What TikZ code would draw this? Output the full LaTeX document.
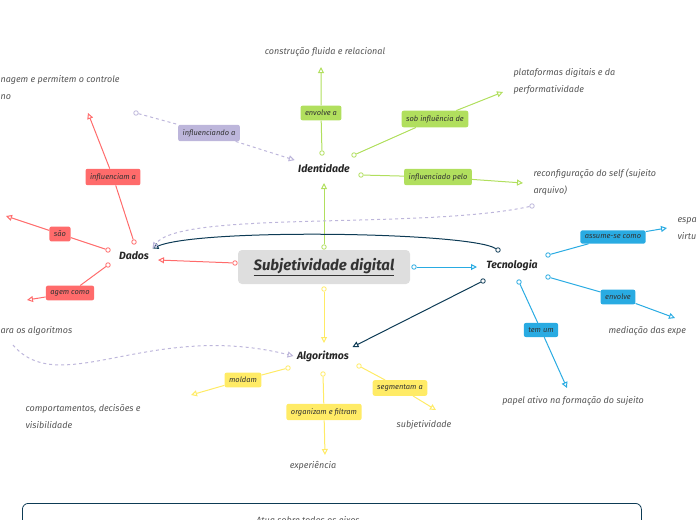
\documentclass[tikz,border=0pt]{standalone}
\usepackage{fontspec}
\setmainfont{Fira Sans}
\usetikzlibrary{arrows.meta}
\definecolor{cred}{HTML}{FF6B6B}
\definecolor{cgreen}{HTML}{B1DF5E}
\definecolor{cblue}{HTML}{29ABE2}
\definecolor{cyellow}{HTML}{FFEB66}
\definecolor{cpurple}{HTML}{BDB6DB}
\definecolor{cdark}{HTML}{0D3B55}
\definecolor{ctext}{HTML}{555555}
\tikzset{
  lbl/.style={fill=#1, rounded corners=2pt, inner sep=4.5pt, font=\fontsize{7.5}{9}\selectfont\itshape, text=black!80},
  topic/.style={font=\fontsize{10.5}{12}\selectfont\bfseries\itshape, text=black!85},
  leaf/.style={font=\fontsize{9}{17}\selectfont\itshape, text=ctext, align=left},
  dot/.style={circle, draw=#1, fill=white, line width=0.8pt, inner sep=0pt, minimum size=4.5pt},
  conn/.style={draw=#1, line width=1pt, -{Triangle[open, length=6pt, width=6pt]}}
}
\begin{document}
\begin{tikzpicture}[x=1pt, y=-1pt]
    \useasboundingbox (0,0) rectangle (697,520);
    \clip (0,0) rectangle (697,520);
    % main topic
    \node [fill=black!13, rounded corners=4pt, minimum width=172pt, minimum height=34pt, font=\fontsize{15}{17}\selectfont\bfseries\itshape, text=black!80] at (324,267) (main) {\underline{Subjetividade digital}};
    \node [topic] at (324,168) (ident) {Identidade};
    \node [topic] at (134,256) (dados) {Dados};
    \node [topic] at (512,265) (tec) {Tecnologia};
    \node [topic] at (323,356) (algo) {Algoritmos};
    % dots on the main topic
    \node [dot=cred] at (235,263) (m1) {};
    \node [dot=cgreen] at (324,247) (m2) {};
    \node [dot=cblue] at (414,267) (m3) {};
    \node [dot=cyellow] at (324,289) (m4) {};
    \draw [conn=cred] (m1) -- (158,260);
    \draw [conn=cgreen] (m2) -- (324,183);
    \draw [conn=cblue] (m3) -- (477,267);
    \draw [conn=cyellow] (m4) -- (324,343);
    % leaves
    \node [leaf, anchor=center] at (325,52) (t1) {construção fluida e relacional};
    \node [leaf, anchor=west] at (510,81) (t2) {plataformas digitais e da\\performatividade};
    \node [leaf, anchor=west] at (530,182) (t3) {reconfiguração do self (sujeito\\arquivo)};
    \node [leaf, anchor=west] at (-3,88) (t4) {nagem e permitem o controle\\no};
    \node [leaf, anchor=west] at (-3,331) (t5) {ara os algoritmos};
    \node [leaf, anchor=west] at (674,229) (t6) {espa\\virtu};
    \node [leaf, anchor=west] at (605,331) (t7) {mediação das expe};
    \node [leaf] at (573,401) (t8) {papel ativo na formação do sujeito};
    \node [leaf, anchor=west] at (22,417) (t9) {comportamentos, decisões e\\visibilidade};
    \node [leaf] at (313,466) (t10) {experiência};
    \node [leaf] at (424,425) (t11) {subjetividade};
    % Identidade
    \node [dot=cgreen] at (322,153) (i1) {};
    \node [dot=cgreen] at (354,155) (i2) {};
    \node [dot=cgreen] at (361,175) (i3) {};
    \coordinate (e1) at (321,67);
    \coordinate (e2) at (503,92);
    \coordinate (e3) at (523,183);
    \node [lbl=cgreen] at (321,113) (l1) {envolve a};
    \node [lbl=cgreen] at (435,119) (l2) {sob influência de};
    \node [lbl=cgreen] at (438,177) (l3) {influenciado pelo};
    \draw [conn=cgreen] (i1) -- (l1) -- (e1);
    \draw [conn=cgreen] (i2) -- (l2) -- (e2);
    \draw [conn=cgreen] (i3) -- (l3) -- (e3);
    % Dados
    \node [dot=cred] at (134,242) (d1) {};
    \node [dot=cred] at (108,250) (d2) {};
    \node [dot=cred] at (108,265) (d3) {};
    \coordinate (f1) at (88,113);
    \coordinate (f2) at (6,216);
    \coordinate (f3) at (27,300);
    \node [lbl=cred] at (113,177) (l4) {influenciam a};
    \node [lbl=cred] at (60,234) (l5) {são};
    \node [lbl=cred] at (70,293) (l6) {agem como};
    \draw [conn=cred] (d1) -- (l4) -- (f1);
    \draw [conn=cred] (d2) -- (l5) -- (f2);
    \draw [conn=cred] (d3) -- (l6) -- (f3);
    % Tecnologia
    \node [dot=cblue] at (548,255) (c1) {};
    \node [dot=cblue] at (548,277) (c2) {};
    \node [dot=cblue] at (519,282) (c3) {};
    \coordinate (g1) at (667,228);
    \coordinate (g2) at (675,318);
    \coordinate (g3) at (567,388);
    \node [lbl=cblue] at (613,237) (l7) {assume-se como};
    \node [lbl=cblue] at (618,297) (l8) {envolve};
    \node [lbl=cblue] at (541,330) (l9) {tem um};
    \draw [conn=cblue] (c1) -- (l7) -- (g1);
    \draw [conn=cblue] (c2) -- (l8) -- (g2);
    \draw [conn=cblue] (c3) -- (l9) -- (g3);
    % Algoritmos
    \node [dot=cyellow] at (288,368) (a1) {};
    \node [dot=cyellow] at (323,374) (a2) {};
    \node [dot=cyellow] at (359,366) (a3) {};
    \coordinate (h1) at (191,395);
    \coordinate (h2) at (325,455);
    \coordinate (h3) at (436,410);
    \node [lbl=cyellow] at (243,380) (l10) {moldam};
    \node [lbl=cyellow] at (324,412) (l11) {organizam e filtram};
    \node [lbl=cyellow] at (400,388) (l12) {segmentam a};
    \draw [conn=cyellow] (a1) -- (l10) -- (h1);
    \draw [conn=cyellow] (a2) -- (l11) -- (h2);
    \draw [conn=cyellow] (a3) -- (l12) -- (h3);
    % cross links
    \node [dot=cdark] at (498,250) (x1) {};
    \node [dot=cdark] at (483,281) (x2) {};
    \draw [conn=cdark] (x1) .. controls (470,232) and (200,228) .. (dados.north east);
    \draw [conn=cdark] (x2) -- (algo.north east);
    \node [dot=cpurple] at (136,113) (p1) {};
    \node [dot=cpurple] at (532,206) (p2) {};
    \coordinate (p3) at (13,345);
    \node [lbl=cpurple] at (209,133) (l13) {influenciando a};
    \draw [conn=cpurple, dashed] (p1) -- (l13) -- (ident.north west);
    \draw [conn=cpurple, dashed] (p2) .. controls (420,230) and (180,210) .. (dados.north east);
    \draw [conn=cpurple, dashed] (p3) .. controls (60,400) and (150,320) .. (algo.west);
    % bottom box
    \node [draw=cdark, rounded corners=6pt, line width=0.8pt, minimum width=619pt, minimum height=40pt, anchor=north west] at (22,503) (eixos) {};
    \node [font=\fontsize{9}{10}\selectfont\itshape, text=ctext] at (308,520) (eixot) {Atua sobre todos os eixos};
\end{tikzpicture}
\end{document}
